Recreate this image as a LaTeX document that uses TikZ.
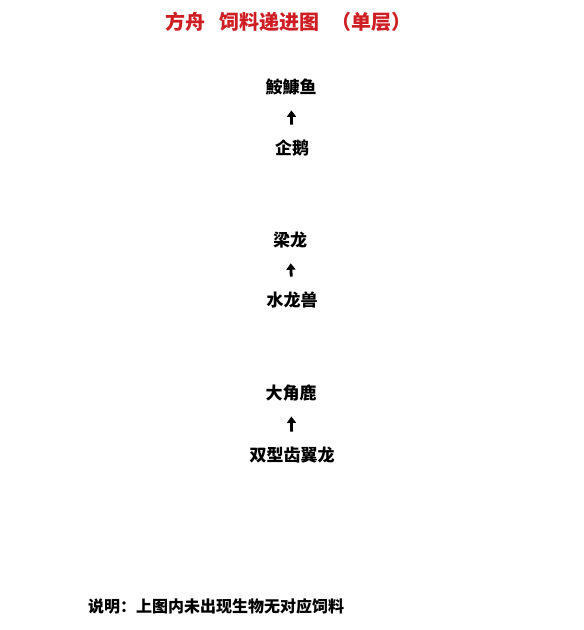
\documentclass[tikz,border=0pt]{standalone}
\usepackage{fontspec}
\newfontfamily\cjk{Noto Sans CJK SC}
\usetikzlibrary{positioning,arrows.meta}

\definecolor{titlered}{RGB}{206,30,36}
\tikzstyle{beast} = [font=\cjk\bfseries\fontsize{17}{20}\selectfont, inner sep=2pt]
\tikzstyle{feed} = [-{Triangle[width=9pt,length=6.5pt]}, line width=2.8pt,
    shorten <=13pt, shorten >=13pt]
\tikzstyle{headline} = [font=\cjk\bfseries\fontsize{20}{24}\selectfont, text=titlered]

\begin{document}
\begin{tikzpicture}[x=1pt,y=-1pt]
\useasboundingbox (0,0) rectangle (584,630);
\node[headline] (title) at (288,22) {方舟\hspace{14pt}饲料递进图\hspace{12pt}（单层）};
% chain 1
\node[beast] (angler) at (291,87) {鮟鱇鱼};
\node[beast] (kairuku) at (292,148) {企鹅};
\draw[feed] (kairuku) -- (angler);
% chain 2
\node[beast] (diplo) at (290,240) {梁龙};
\node[beast] (lysto) at (292,300) {水龙兽};
\draw[feed] (lysto) -- (diplo);
% chain 3
\node[beast] (megalo) at (291,393) {大角鹿};
\node[beast] (dimorph) at (292,455) {双型齿翼龙};
\draw[feed] (dimorph) -- (megalo);
\node[beast, anchor=west, font=\cjk\bfseries\fontsize{16}{19}\selectfont] (note) at (86,606) {说明：上图内未出现生物无对应饲料};
\end{tikzpicture}
\end{document}
